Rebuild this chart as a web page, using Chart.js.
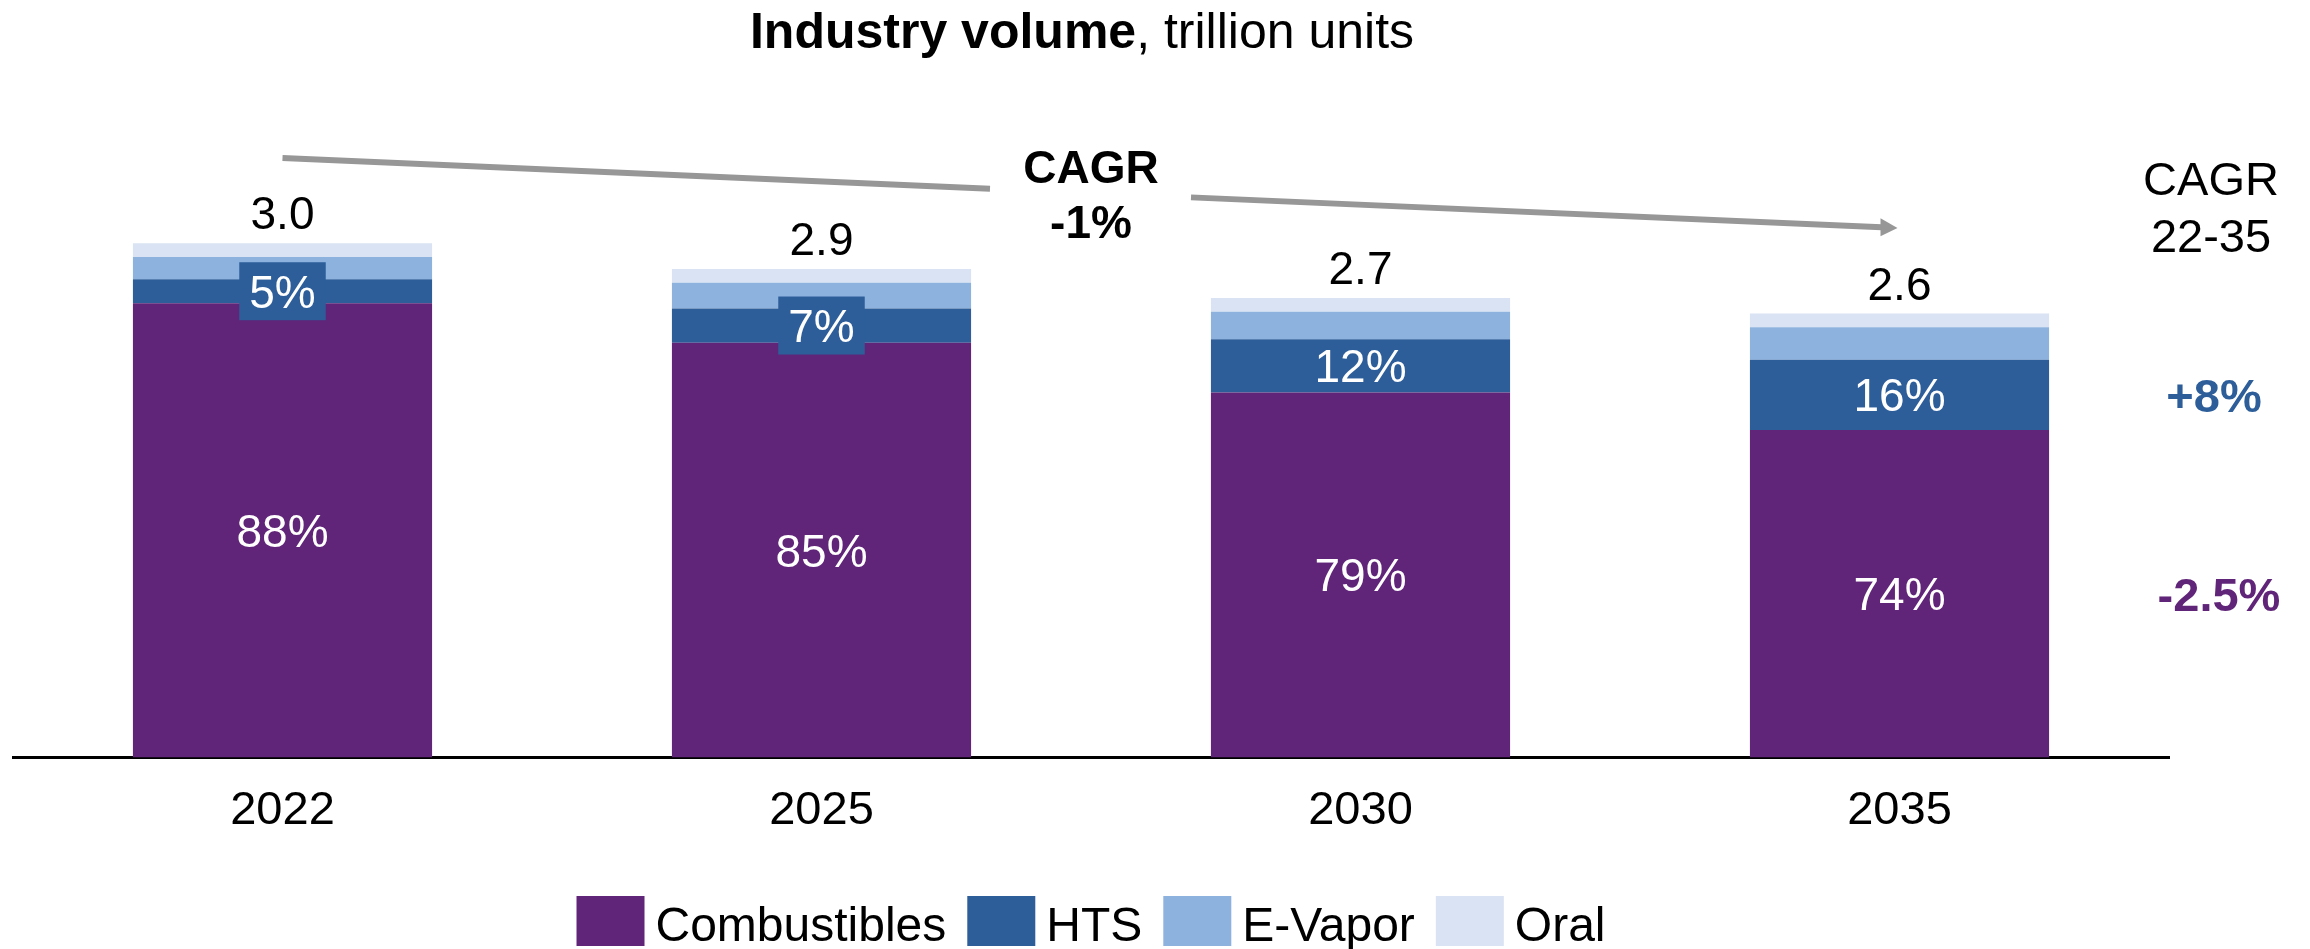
<!DOCTYPE html>
<html>
<head>
<meta charset="utf-8">
<script src="https://cdn.jsdelivr.net/npm/chart.js@4/dist/chart.umd.min.js"></script>
<style>
  html, body { margin: 0; padding: 0; background: #ffffff; }
  #wrap { width: 2310px; height: 949px; }
</style>
</head>
<body>
<div id="wrap"><canvas id="c" width="2310" height="949"></canvas></div>
<script>
// ---- data (trillion units) ----
const categories = ['2022', '2025', '2030', '2035'];
const combustibles = [2.65, 2.42, 2.13, 1.91];
const hts = [0.14, 0.20, 0.31, 0.41];
const eVapor = [0.13, 0.15, 0.16, 0.19];
const oral = [0.08, 0.08, 0.08, 0.08];
const totalLabels = ['3.0', '2.9', '2.7', '2.6'];
const combShareLabels = ['88%', '85%', '79%', '74%'];
const htsShareLabels = ['5%', '7%', '12%', '16%'];
const seriesNames = ['Combustibles', 'HTS', 'E-Vapor', 'Oral'];
const titleBold = 'Industry volume';
const titleRest = ', trillion units';
const overallCagr = ['CAGR', '-1%'];
const cagrHeader = ['CAGR', '22-35'];
const htsCagr = '+8%';
const combCagr = '-2.5%';

const COLORS = ['#602478', '#2D5E9A', '#8DB2DE', '#D9E3F3'];
const FONT = '"Liberation Sans", Arial, Helvetica, sans-serif';

const annotations = {
  id: 'annotations',
  afterDatasetsDraw(chart) {
    const ctx = chart.ctx;
    const mComb = chart.getDatasetMeta(0).data;
    const mHts = chart.getDatasetMeta(1).data;
    const mOral = chart.getDatasetMeta(3).data;
    ctx.save();
    ctx.textAlign = 'center';
    ctx.textBaseline = 'alphabetic';
    const fs = 46;
    const capHalf = fs * 0.358;
    for (let i = 0; i < categories.length; i++) {
      ctx.fillStyle = '#000000';
      ctx.font = fs + 'px ' + FONT;
      ctx.fillText(totalLabels[i], mOral[i].x, mOral[i].y - 14);
      const cc = (mComb[i].y + mComb[i].base) / 2;
      ctx.fillStyle = '#ffffff';
      ctx.fillText(combShareLabels[i], mComb[i].x, cc + capHalf);
      const hc = (mHts[i].y + mHts[i].base) / 2;
      const segH = Math.abs(mHts[i].base - mHts[i].y);
      const tw = ctx.measureText(htsShareLabels[i]).width;
      if (segH < 45) {
        ctx.fillStyle = COLORS[1];
        ctx.fillRect(mHts[i].x - (tw + 20) / 2, hc - 29, tw + 20, 58);
      }
      ctx.fillStyle = '#ffffff';
      ctx.fillText(htsShareLabels[i], mHts[i].x, hc + capHalf);
    }
    ctx.restore();
  },
  afterDraw(chart) {
    const ctx = chart.ctx;
    const ca = chart.chartArea;
    const cx = (ca.left + ca.right) / 2;
    ctx.save();
    ctx.textBaseline = 'alphabetic';
    ctx.textAlign = 'left';
    ctx.font = 'bold 50px ' + FONT;
    const wb = ctx.measureText(titleBold).width;
    ctx.font = '50px ' + FONT;
    const wr = ctx.measureText(titleRest).width;
    const tx = 1082 - (wb + wr) / 2;
    ctx.fillStyle = '#000000';
    ctx.font = 'bold 50px ' + FONT;
    ctx.fillText(titleBold, tx, 48);
    ctx.font = '50px ' + FONT;
    ctx.fillText(titleRest, tx + wb, 48);

    const mComb = chart.getDatasetMeta(0).data;
    const x0 = mComb[0].x, x1 = mComb[mComb.length - 1].x - 2;
    const y0 = 158, y1 = 228;
    const yAt = x => y0 + (y1 - y0) * (x - x0) / (x1 - x0);
    const gapL = 990, gapR = 1191;
    ctx.strokeStyle = '#979797';
    ctx.lineWidth = 6;
    ctx.beginPath();
    ctx.moveTo(x0, yAt(x0));
    ctx.lineTo(gapL, yAt(gapL));
    ctx.moveTo(gapR, yAt(gapR));
    ctx.lineTo(x1 - 16, yAt(x1 - 16));
    ctx.stroke();
    ctx.fillStyle = '#979797';
    ctx.beginPath();
    ctx.moveTo(x1, yAt(x1));
    ctx.lineTo(x1 - 17, yAt(x1 - 17) - 9);
    ctx.lineTo(x1 - 17, yAt(x1 - 17) + 9);
    ctx.closePath();
    ctx.fill();

    ctx.textAlign = 'center';
    ctx.fillStyle = '#000000';
    ctx.font = 'bold 46px ' + FONT;
    ctx.fillText(overallCagr[0], 1091, 183);
    ctx.fillText(overallCagr[1], 1091, 238);

    ctx.font = '47px ' + FONT;
    ctx.fillText(cagrHeader[0], 2211, 195);
    ctx.fillText(cagrHeader[1], 2211, 252);
    const last = categories.length - 1;
    const mHts = chart.getDatasetMeta(1).data;
    const hc = (mHts[last].y + mHts[last].base) / 2;
    const cc = (mComb[last].y + mComb[last].base) / 2;
    ctx.font = 'bold 47px ' + FONT;
    ctx.fillStyle = COLORS[1];
    ctx.fillText(htsCagr, 2214, hc + 17);
    ctx.fillStyle = COLORS[0];
    ctx.fillText(combCagr, 2219, cc + 17);

    ctx.font = '48px ' + FONT;
    ctx.textAlign = 'left';
    const ds = chart.data.datasets;
    const boxW = 68, boxH = 50, gapBT = 11, gapItem = 21;
    let total = 0;
    const widths = ds.map(d => ctx.measureText(d.label).width);
    widths.forEach((w, i) => { total += boxW + gapBT + w + (i < widths.length - 1 ? gapItem : 0); });
    let lx = cx - total / 2;
    ds.forEach((d, i) => {
      ctx.fillStyle = d.backgroundColor;
      ctx.fillRect(lx, 896, boxW, boxH);
      ctx.fillStyle = '#000000';
      ctx.fillText(d.label, lx + boxW + gapBT, 941);
      lx += boxW + gapBT + widths[i] + gapItem;
    });
    ctx.restore();
  }
};

new Chart(document.getElementById('c'), {
  type: 'bar',
  data: {
    labels: categories,
    datasets: [
      { label: seriesNames[0], data: combustibles, backgroundColor: COLORS[0] },
      { label: seriesNames[1], data: hts, backgroundColor: COLORS[1] },
      { label: seriesNames[2], data: eVapor, backgroundColor: COLORS[2] },
      { label: seriesNames[3], data: oral, backgroundColor: COLORS[3] }
    ]
  },
  options: {
    responsive: false,
    devicePixelRatio: 1,
    animation: false,
    layout: { padding: { left: 13, right: 141, top: 157.5, bottom: 85 } },
    datasets: { bar: { categoryPercentage: 1.0, barPercentage: 0.555, borderWidth: 0 } },
    scales: {
      x: {
        stacked: true,
        grid: { display: false, drawTicks: false },
        border: { display: true, color: '#000000', width: 3 },
        ticks: { color: '#000000', font: { family: FONT, size: 47 }, padding: 25 }
      },
      y: {
        stacked: true,
        display: false,
        min: 0,
        max: 3.5
      }
    },
    plugins: {
      legend: { display: false },
      title: { display: false },
      tooltip: { enabled: false }
    }
  },
  plugins: [annotations]
});
</script>
</body>
</html>
